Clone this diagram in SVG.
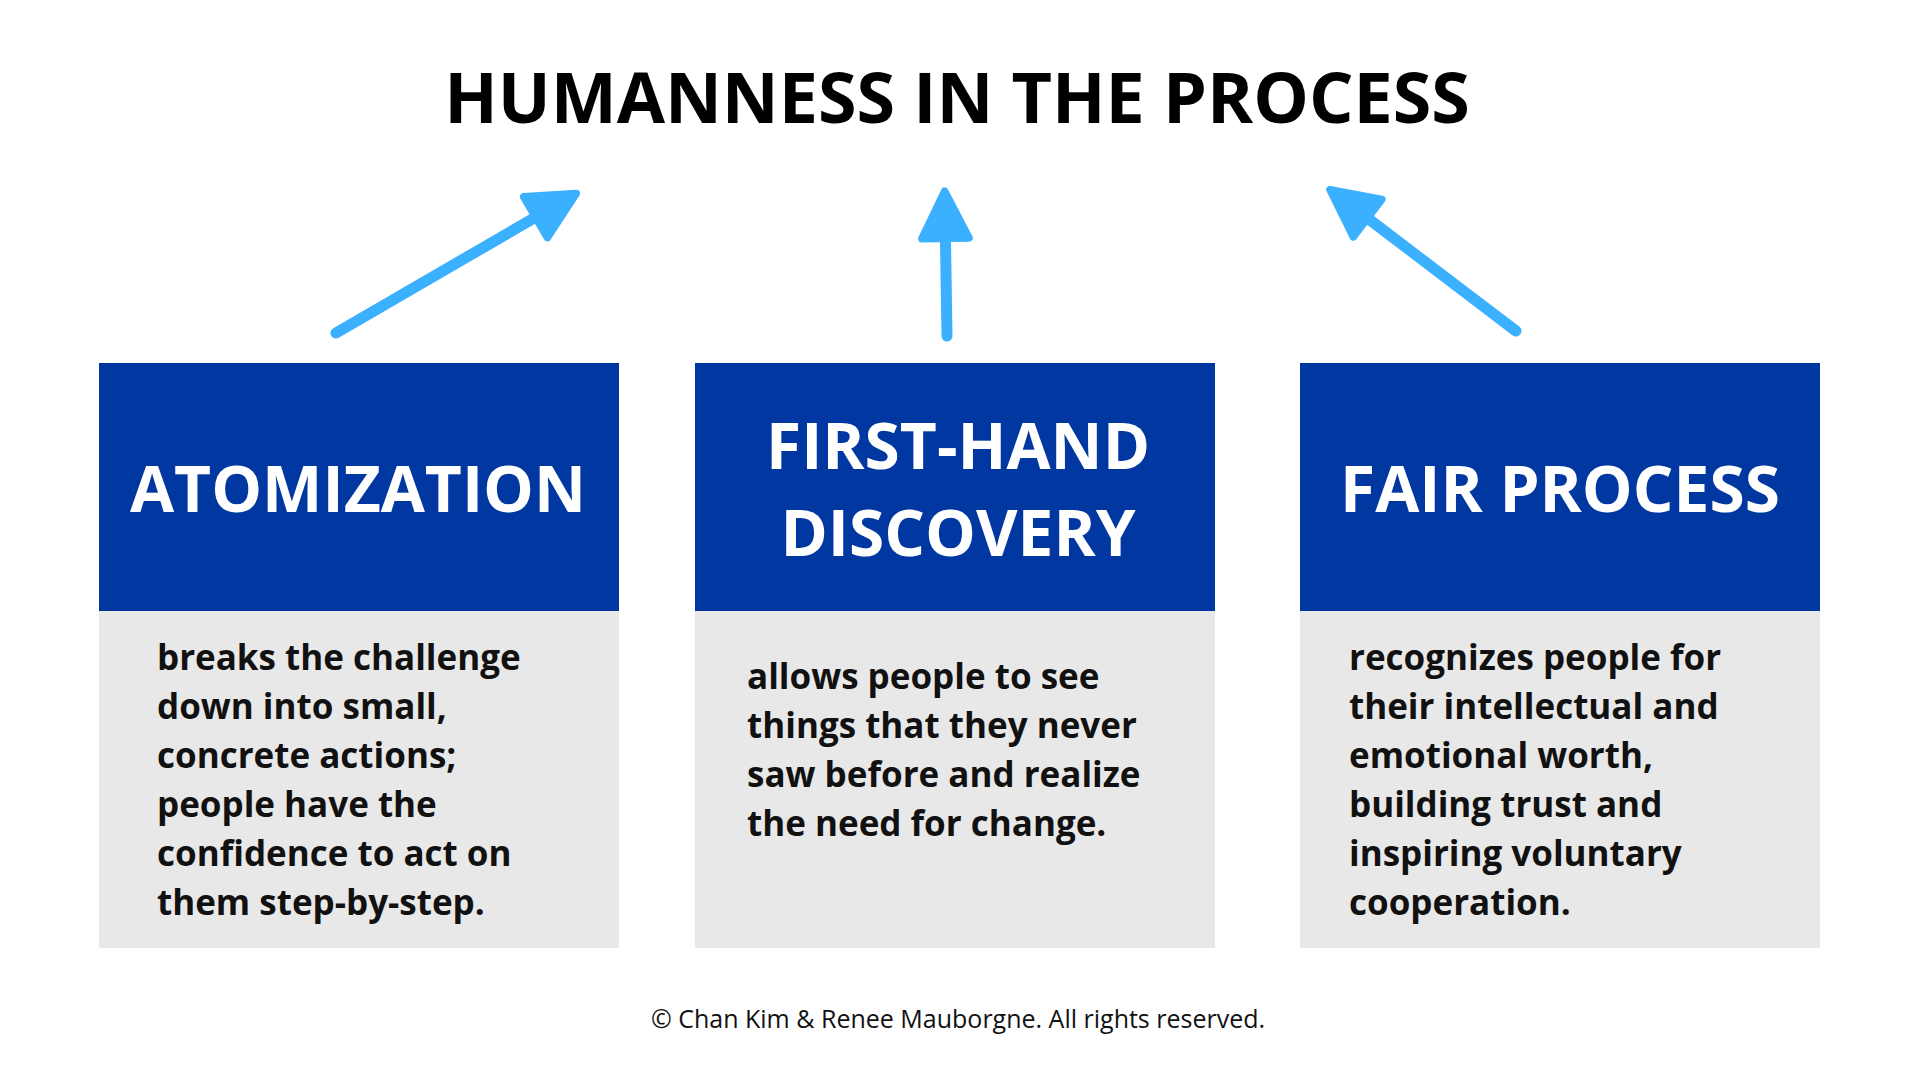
<svg xmlns="http://www.w3.org/2000/svg" width="1920" height="1080" viewBox="0 0 1920 1080">
<style>
.hd{fill:#0037a0}.bd{fill:#e8e8e8}
.ht{font-family:"Open Sans","Liberation Sans",sans-serif;font-weight:700;font-size:64px;fill:#fff;text-anchor:middle}
.tx{font-family:"Open Sans","Liberation Sans",sans-serif;font-weight:700;font-size:35px;fill:#111}
.ar{stroke:#3bb0ff;stroke-width:11;stroke-linecap:round;fill:none}
</style>
<defs><marker id="ah" markerWidth="6" markerHeight="6" refX="3" refY="2.5" orient="auto" markerUnits="strokeWidth" viewBox="-1 -1 7 7"><path d="M0,0 L5,2.5 L0,5 Z" fill="#3bb0ff" stroke="#3bb0ff" stroke-width="0.8" stroke-linejoin="round"/></marker></defs>
<rect width="1920" height="1080" fill="#fff"/>
<text x="957" y="123" font-family="'Open Sans','Liberation Sans',sans-serif" font-weight="700" font-size="70" text-anchor="middle" fill="#000">HUMANNESS IN THE PROCESS</text>
<g id="connectors">
<line class="ar" x1="336" y1="333" x2="560" y2="203" marker-end="url(#ah)"/>
<line class="ar" x1="947" y1="336" x2="945" y2="210" marker-end="url(#ah)"/>
<line class="ar" x1="1516" y1="331" x2="1345" y2="201" marker-end="url(#ah)"/>
</g>
<g id="atomization">
<rect class="hd" x="99" y="363" width="520" height="248"/><rect class="bd" x="99" y="611" width="520" height="337"/>
<text class="ht" x="358" y="512">ATOMIZATION</text>
<text class="tx" x="157" y="670">breaks the challenge<tspan x="157" dy="49">down into small,</tspan><tspan x="157" dy="49">concrete actions;</tspan><tspan x="157" dy="49">people have the</tspan><tspan x="157" dy="49">confidence to act on</tspan><tspan x="157" dy="49">them step-by-step.</tspan></text>
</g>
<g id="firsthand">
<rect class="hd" x="695" y="363" width="520" height="248"/><rect class="bd" x="695" y="611" width="520" height="337"/>
<text class="ht" x="958" y="469">FIRST-HAND</text><text class="ht" x="958" y="556">DISCOVERY</text>
<text class="tx" x="747" y="689">allows people to see<tspan x="747" dy="49">things that they never</tspan><tspan x="747" dy="49">saw before and realize</tspan><tspan x="747" dy="49">the need for change.</tspan></text>
</g>
<g id="fairprocess">
<rect class="hd" x="1300" y="363" width="520" height="248"/><rect class="bd" x="1300" y="611" width="520" height="337"/>
<text class="ht" x="1560" y="512">FAIR PROCESS</text>
<text class="tx" x="1349" y="670">recognizes people for<tspan x="1349" dy="49">their intellectual and</tspan><tspan x="1349" dy="49">emotional worth,</tspan><tspan x="1349" dy="49">building trust and</tspan><tspan x="1349" dy="49">inspiring voluntary</tspan><tspan x="1349" dy="49">cooperation.</tspan></text>
</g>
<text x="958" y="1028" font-family="'Open Sans','Liberation Sans',sans-serif" font-size="25" text-anchor="middle" fill="#111">© Chan Kim &amp; Renee Mauborgne. All rights reserved.</text>
</svg>
